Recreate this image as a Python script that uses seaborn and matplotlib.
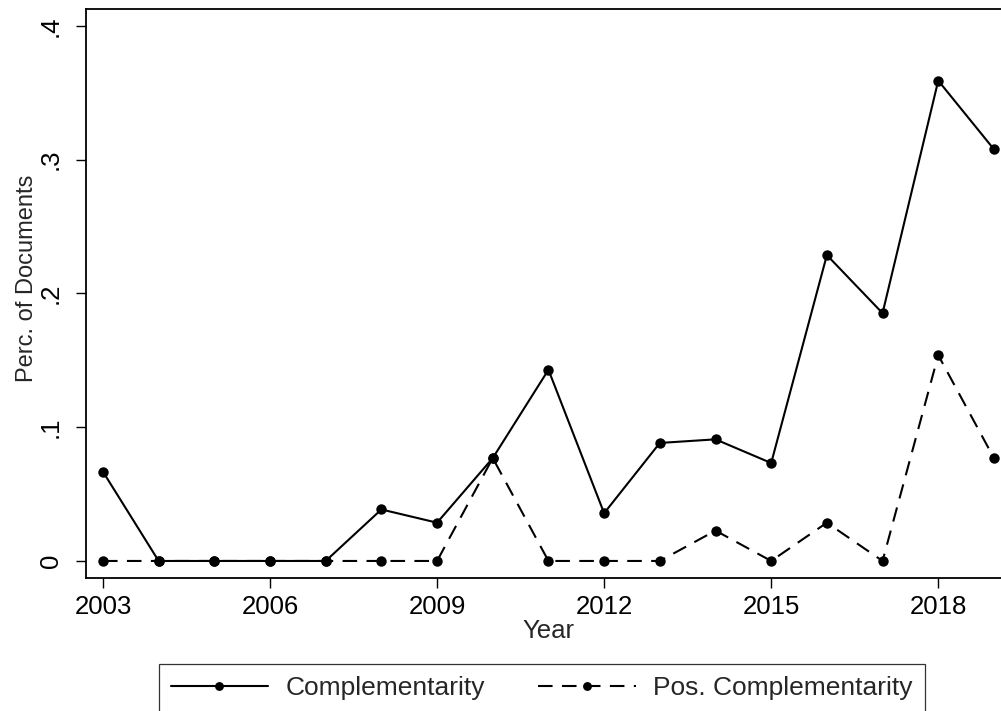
import numpy as np
import pandas as pd
import matplotlib
matplotlib.use("Agg")
import matplotlib.pyplot as plt
import seaborn as sns

# data
years = list(range(2003, 2020))
complementarity = [0.0667, 0.0, 0.0, 0.0, 0.0, 0.0385, 0.0286, 0.0769, 0.1429,
                   0.0357, 0.0882, 0.0909, 0.0732, 0.2286, 0.1852, 0.3590, 0.3077]
pos_complementarity = [0.0, 0.0, 0.0, 0.0, 0.0, 0.0, 0.0, 0.0769, 0.0,
                       0.0, 0.0, 0.0227, 0.0, 0.0286, 0.0, 0.1538, 0.0769]
series_names = ["Complementarity", "Pos. Complementarity"]
x_ticks = [2003, 2006, 2009, 2012, 2015, 2018]
y_ticks = [0, 0.1, 0.2, 0.3, 0.4]
y_ticklabels = ["0", ".1", ".2", ".3", ".4"]

sns.set_style("ticks")
plt.rcParams["font.family"] = ["Liberation Sans", "DejaVu Sans"]
plt.rcParams["font.size"] = 18.5

df = pd.DataFrame({"Year": years, "comp": complementarity, "pos": pos_complementarity})

fig = plt.figure(figsize=(10.01, 7.11), dpi=100)
ax = fig.add_axes([0.0859, 0.1875, 0.924, 0.7994])

sns.lineplot(data=df, x="Year", y="pos", ax=ax, color="black", marker="o",
             markersize=7.5, markeredgewidth=0, linewidth=1.5,
             dashes=(7, 4.5), label=series_names[1], legend=False)
sns.lineplot(data=df, x="Year", y="comp", ax=ax, color="black", marker="o",
             markersize=7.5, markeredgewidth=0, linewidth=1.5,
             label=series_names[0], legend=False)

ax.set_xlim(2002.695, 2019.305)
ax.set_ylim(-0.0125, 0.4123)
ax.set_xticks(x_ticks)
ax.set_yticks(y_ticks)
ax.set_yticklabels(y_ticklabels, rotation=90, va="center")
ax.tick_params(direction="out", length=7.5, width=1, pad=5, labelsize=18.5, colors="black")
ax.tick_params(axis="y", pad=9)
for s in ax.spines.values():
    s.set_linewidth(1.3)
    s.set_color("black")
ax.set_xlabel("Year", fontsize=18.5, labelpad=0)
ax.set_ylabel("Perc. of Documents", fontsize=17)
ax.yaxis.set_label_coords(-0.052, 0.526)

handles, labels = ax.get_legend_handles_labels()
order = [labels.index(n) for n in series_names]
leg = fig.legend([handles[i] for i in order], [labels[i] for i in order],
                 loc="upper left", bbox_to_anchor=(158.7 / 1001, 1 - 664 / 711),
                 ncol=2, frameon=True, fancybox=False, handlelength=3.7,
                 handletextpad=0.67, columnspacing=2.0, borderpad=0.45,
                 borderaxespad=0, fontsize=19, markerscale=0.85)
leg.get_frame().set_edgecolor("black")
leg.get_frame().set_linewidth(0.9)

fig.savefig("out.png", dpi=100)
